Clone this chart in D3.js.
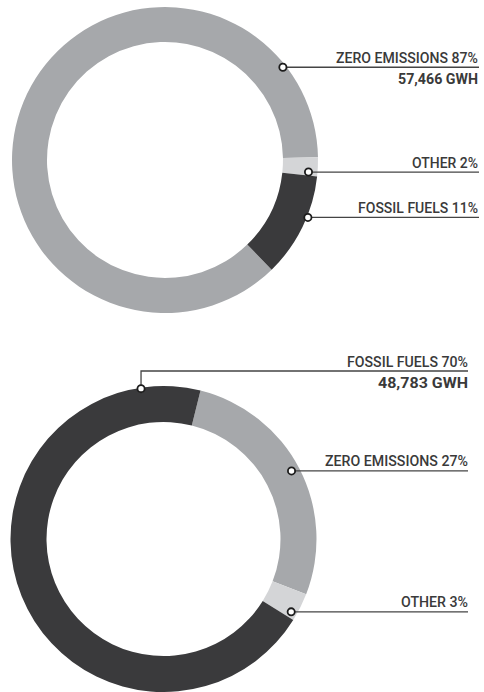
<!DOCTYPE html>
<html>
<head>
<meta charset="utf-8">
<script src="https://cdn.jsdelivr.net/npm/d3@7"></script>
<style>
  html, body { margin: 0; padding: 0; background: #ffffff; }
  svg { display: block; }
</style>
</head>
<body>
<svg id="chart" width="484" height="692"></svg>
<script>
// ---- data ----
const categories = ["ZERO EMISSIONS", "OTHER", "FOSSIL FUELS"];
const topShares = [87, 2, 11];
const bottomShares = [27, 3, 70];
const topTotalLabel = "57,466 GWH";     // under ZERO EMISSIONS (top ring)
const bottomTotalLabel = "48,783 GWH";  // under FOSSIL FUELS (bottom ring)
const colors = ["#a6a8ab", "#d4d5d7", "#3a3a3c"];

// ---- layout (positions / styles) ----
const charts = [
  { shares: topShares, total: topTotalLabel, totalIdx: 0,
    cx: 165, cy: 160, R: 153, r: 118, startDeg: 89 - topShares[0] * 3.6,
    dotDeg: [51.8, 94.8, 111.9], dotRad: [150, 144, 154], labelRight: 478, lineEnd: 479,
    textLen: [142, 66, 120], totalLen: 80, elbowY: [null, null, null] },
  { shares: bottomShares, total: bottomTotalLabel, totalIdx: 2,
    cx: 163.5, cy: 539, R: 153, r: 117, startDeg: 14,
    dotDeg: [62, 119.7, -8.5], dotRad: [145, 147, 152], labelRight: 468, lineEnd: 468,
    textLen: [143, 67, 121], totalLen: 90, elbowY: [null, null, 371] }
];

const svg = d3.select("#chart");

charts.forEach(c => {
  const g = svg.append("g").attr("transform", `translate(${c.cx},${c.cy})`);
  const start = c.startDeg * Math.PI / 180;
  const pie = d3.pie().sort(null).value(d => d)
    .startAngle(start).endAngle(start + 2 * Math.PI);
  const arc = d3.arc().innerRadius(c.r).outerRadius(c.R);
  const arcs = pie(c.shares);

  g.selectAll("path.slice").data(arcs).join("path")
    .attr("class", "slice")
    .attr("d", arc)
    .attr("fill", (d, i) => colors[i]);

  // label leaders
  arcs.forEach((d, i) => {
    const a = c.dotDeg[i] * Math.PI / 180;
    const rr = c.dotRad[i];
    const px = c.cx + rr * Math.sin(a);
    const py = c.cy - rr * Math.cos(a);
    const lineY = c.elbowY[i] != null ? c.elbowY[i] : py;
    const pathD = c.elbowY[i] != null
      ? `M${px},${py}V${lineY}H${c.lineEnd}`
      : `M${px},${py}H${c.lineEnd}`;
    svg.append("path").attr("d", pathD)
      .attr("fill", "none").attr("stroke", "#444444").attr("stroke-width", 1.3);

    svg.append("circle").attr("cx", px).attr("cy", py).attr("r", 3.6)
      .attr("fill", "#ffffff").attr("stroke", "#1c1c1c").attr("stroke-width", 1.8);

    svg.append("text")
      .attr("x", c.labelRight).attr("y", lineY - 4.5)
      .attr("text-anchor", "end")
      .attr("font-family", "Roboto, 'Noto Sans', sans-serif")
      .attr("font-weight", 500).attr("font-size", "14.5px")
      .attr("fill", "#3a3a3a")
      .attr("textLength", c.textLen[i]).attr("lengthAdjust", "spacingAndGlyphs")
      .text(`${categories[i]} ${c.shares[i]}%`);

    if (i === c.totalIdx) {
      svg.append("text")
        .attr("x", c.labelRight).attr("y", lineY + 17)
        .attr("text-anchor", "end")
        .attr("font-family", "Roboto, 'Noto Sans', sans-serif")
        .attr("font-weight", 700).attr("font-size", "15px")
        .attr("fill", "#3a3a3a")
        .attr("textLength", c.totalLen).attr("lengthAdjust", "spacingAndGlyphs")
        .text(c.total);
    }
  });
});
</script>
</body>
</html>
